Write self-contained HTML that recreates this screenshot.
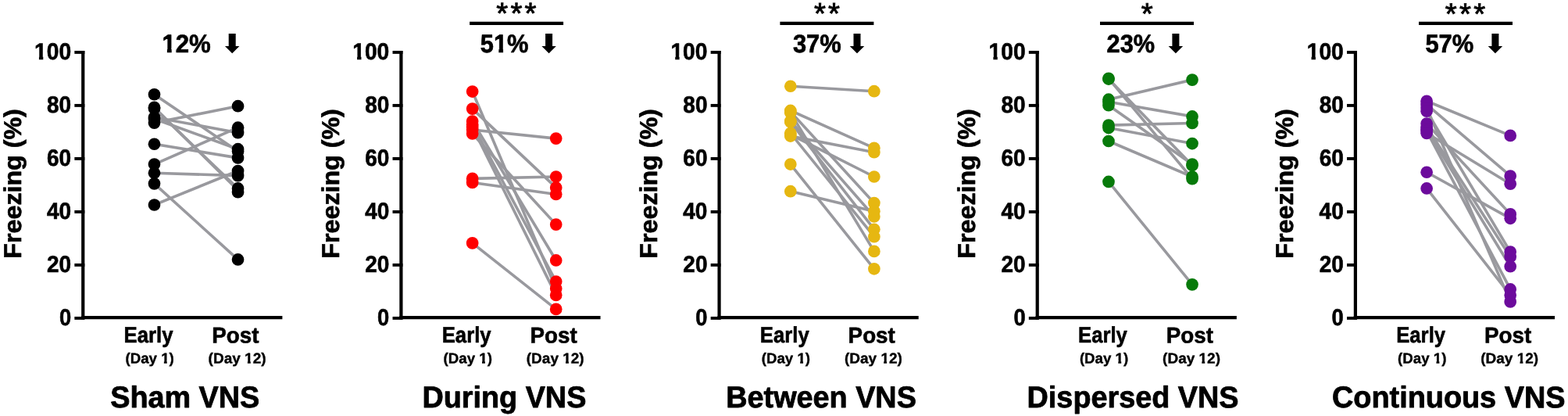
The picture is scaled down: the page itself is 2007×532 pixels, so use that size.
<!DOCTYPE html>
<html lang="en">
<head>
<meta charset="utf-8">
<title>Freezing across VNS groups</title>
<style>
html,body{margin:0;padding:0;background:#fff;}
body{width:2007px;height:532px;overflow:hidden;}
svg{display:block;}
text{font-family:"Liberation Sans",Arial,Helvetica,sans-serif;font-weight:bold;fill:#000;stroke:#000;stroke-linejoin:round;text-rendering:geometricPrecision;}
.ax{stroke:#000;stroke-width:4.2;fill:none;stroke-linecap:butt;stroke-linejoin:miter;}
.tk{stroke:#000;stroke-width:3.9;fill:none;}
.stars{font-weight:normal;stroke:#000;stroke-width:0.9px;stroke-linejoin:miter;}
.ln{stroke:#99999e;fill:none;}
</style>
</head>
<body>
<svg width="2007" height="532" viewBox="0 0 2007 532">
<rect x="0" y="0" width="2007" height="532" fill="#ffffff"/>
<defs>
<clipPath id="c1" clipPathUnits="userSpaceOnUse"><path clip-rule="evenodd" d="M-20 -38.87 H69.89 V17.94 H-20 Z M0.26 -4.87 H6.21 V1.63 H0.26 Z M11.85 -4.87 H16.73 V1.63 H11.85 Z"/></clipPath>
<clipPath id="c2" clipPathUnits="userSpaceOnUse"><path clip-rule="evenodd" d="M-20 -24.18 H82.02 V11.16 H-20 Z M45.26 -3.59 H49.18 V1.39 H45.26 Z M53.02 -3.59 H56.70 V1.39 H53.02 Z"/></clipPath>
<clipPath id="c3" clipPathUnits="userSpaceOnUse"><path clip-rule="evenodd" d="M-20 -24.18 H92.37 V11.16 H-20 Z M45.26 -3.59 H49.18 V1.39 H45.26 Z M53.02 -3.59 H55.89 V1.39 H53.02 Z"/></clipPath>
<clipPath id="c4" clipPathUnits="userSpaceOnUse"><path clip-rule="evenodd" d="M-20 -42.38 H85.25 V19.56 H-20 Z M0.37 -5.17 H6.82 V1.68 H0.37 Z M12.87 -5.17 H18.24 V1.68 H12.87 Z"/></clipPath>
<clipPath id="c5" clipPathUnits="userSpaceOnUse"><path clip-rule="evenodd" d="M-20 -42.38 H85.25 V19.56 H-20 Z M18.50 -5.17 H24.95 V1.68 H18.50 Z M31.00 -5.17 H37.04 V1.68 H31.00 Z"/></clipPath>
</defs>
<g id="panel1">
<path class="ax" d="M106.25 65.00 V408.20"/>
<path class="ax" d="M104.15 406.10 H361.40"/>
<path class="tk" d="M95.35 406.90 H108.35"/>
<text class="tick" font-size="29.90" stroke-width="0.63" transform="translate(75.93 415.95) rotate(0.03) scale(0.9126 1)">0</text>
<path class="tk" d="M95.35 338.90 H108.35"/>
<text class="tick" font-size="29.90" stroke-width="0.63" transform="translate(59.99 347.95) rotate(0.03) scale(0.9365 1)">20</text>
<path class="tk" d="M95.35 270.90 H108.35"/>
<text class="tick" font-size="29.90" stroke-width="0.63" transform="translate(59.98 279.95) rotate(0.03) scale(0.9368 1)">40</text>
<path class="tk" d="M95.35 202.90 H108.35"/>
<text class="tick" font-size="29.90" stroke-width="0.63" transform="translate(59.99 211.95) rotate(0.03) scale(0.9364 1)">60</text>
<path class="tk" d="M95.35 134.90 H108.35"/>
<text class="tick" font-size="29.90" stroke-width="0.63" transform="translate(59.99 143.95) rotate(0.03) scale(0.9365 1)">80</text>
<path class="tk" d="M95.35 66.90 H108.35"/>
<text class="tick" font-size="29.90" stroke-width="0.63" clip-path="url(#c1)" transform="translate(44.09 75.95) rotate(0.03) scale(0.9433 1)">100</text>
<text class="ylab" font-size="31.40" stroke-width="0.66" transform="translate(26.75 330.63) rotate(-90) scale(1.0259 1)">Freezing (%)</text>
<line class="ln" stroke-width="3.60" x1="197.50" y1="120.76" x2="304.55" y2="193.42"/>
<line class="ln" stroke-width="3.60" x1="197.50" y1="137.40" x2="304.55" y2="243.32"/>
<line class="ln" stroke-width="3.60" x1="197.50" y1="138.76" x2="304.55" y2="240.95"/>
<line class="ln" stroke-width="3.60" x1="197.50" y1="149.96" x2="304.55" y2="169.65"/>
<line class="ln" stroke-width="3.60" x1="197.50" y1="157.09" x2="304.55" y2="135.70"/>
<line class="ln" stroke-width="3.60" x1="197.50" y1="152.00" x2="304.55" y2="190.70"/>
<line class="ln" stroke-width="3.60" x1="197.50" y1="184.25" x2="304.55" y2="201.90"/>
<line class="ln" stroke-width="3.60" x1="197.50" y1="210.05" x2="304.55" y2="163.20"/>
<line class="ln" stroke-width="3.60" x1="197.50" y1="221.25" x2="304.55" y2="224.65"/>
<line class="ln" stroke-width="3.60" x1="197.50" y1="234.83" x2="304.55" y2="331.93"/>
<line class="ln" stroke-width="3.60" x1="197.50" y1="261.99" x2="304.55" y2="218.54"/>
<circle cx="197.50" cy="120.76" r="7.85" fill="#000000"/>
<circle cx="197.50" cy="137.40" r="7.85" fill="#000000"/>
<circle cx="197.50" cy="138.76" r="7.85" fill="#000000"/>
<circle cx="197.50" cy="149.96" r="7.85" fill="#000000"/>
<circle cx="197.50" cy="157.09" r="7.85" fill="#000000"/>
<circle cx="197.50" cy="152.00" r="7.85" fill="#000000"/>
<circle cx="197.50" cy="184.25" r="7.85" fill="#000000"/>
<circle cx="197.50" cy="210.05" r="7.85" fill="#000000"/>
<circle cx="197.50" cy="221.25" r="7.85" fill="#000000"/>
<circle cx="197.50" cy="234.83" r="7.85" fill="#000000"/>
<circle cx="197.50" cy="261.99" r="7.85" fill="#000000"/>
<circle cx="304.55" cy="193.42" r="7.85" fill="#000000"/>
<circle cx="304.55" cy="245.70" r="7.85" fill="#000000"/>
<circle cx="304.55" cy="240.95" r="7.85" fill="#000000"/>
<circle cx="304.55" cy="169.65" r="7.85" fill="#000000"/>
<circle cx="304.55" cy="135.70" r="7.85" fill="#000000"/>
<circle cx="304.55" cy="190.70" r="7.85" fill="#000000"/>
<circle cx="304.55" cy="201.90" r="7.85" fill="#000000"/>
<circle cx="304.55" cy="163.20" r="7.85" fill="#000000"/>
<circle cx="304.55" cy="224.65" r="7.85" fill="#000000"/>
<circle cx="304.55" cy="331.93" r="7.85" fill="#000000"/>
<circle cx="304.55" cy="218.54" r="7.85" fill="#000000"/>
<text class="xlab" font-size="28.50" stroke-width="0.60" transform="translate(158.53 438.40) rotate(0.03) scale(0.9023 1)">Early</text>
<text class="xsub" font-size="18.60" stroke-width="0.39" clip-path="url(#c2)" transform="translate(160.41 464.50) rotate(0.03) scale(1.0057 1)">(Day 1)</text>
<text class="xlab" font-size="28.50" stroke-width="0.60" transform="translate(271.29 438.40) rotate(0.03) scale(0.9747 1)">Post</text>
<text class="xsub" font-size="18.60" stroke-width="0.39" clip-path="url(#c3)" transform="translate(266.60 464.50) rotate(0.03) scale(1.0219 1)">(Day 12)</text>
<text class="title" font-size="38.60" stroke-width="0.81" transform="translate(141.22 521.00) rotate(0.03) scale(0.9793 1)">Sham VNS</text>
<text class="pct" font-size="32.60" stroke-width="0.68" clip-path="url(#c4)" transform="translate(207.38 67.00) rotate(0.03) scale(0.9548 1)">12%</text>
<path class="arrow" d="M292.70 43.0 h9 v15.9 h4.75 l-9.25 9.3 l-9.25 -9.3 h4.75 z" fill="#000"/>
</g>
<g id="panel2">
<path class="ax" d="M513.41 65.00 V408.20"/>
<path class="ax" d="M511.31 406.10 H768.56"/>
<path class="tk" d="M502.51 406.90 H515.51"/>
<text class="tick" font-size="29.90" stroke-width="0.63" transform="translate(483.09 415.95) rotate(0.03) scale(0.9126 1)">0</text>
<path class="tk" d="M502.51 338.90 H515.51"/>
<text class="tick" font-size="29.90" stroke-width="0.63" transform="translate(467.15 347.95) rotate(0.03) scale(0.9365 1)">20</text>
<path class="tk" d="M502.51 270.90 H515.51"/>
<text class="tick" font-size="29.90" stroke-width="0.63" transform="translate(467.14 279.95) rotate(0.03) scale(0.9368 1)">40</text>
<path class="tk" d="M502.51 202.90 H515.51"/>
<text class="tick" font-size="29.90" stroke-width="0.63" transform="translate(467.15 211.95) rotate(0.03) scale(0.9364 1)">60</text>
<path class="tk" d="M502.51 134.90 H515.51"/>
<text class="tick" font-size="29.90" stroke-width="0.63" transform="translate(467.15 143.95) rotate(0.03) scale(0.9365 1)">80</text>
<path class="tk" d="M502.51 66.90 H515.51"/>
<text class="tick" font-size="29.90" stroke-width="0.63" clip-path="url(#c1)" transform="translate(451.25 75.95) rotate(0.03) scale(0.9433 1)">100</text>
<text class="ylab" font-size="31.40" stroke-width="0.66" transform="translate(433.91 330.63) rotate(-90) scale(1.0259 1)">Freezing (%)</text>
<line class="ln" stroke-width="3.60" x1="604.66" y1="117.03" x2="711.71" y2="368.94"/>
<line class="ln" stroke-width="3.60" x1="604.66" y1="139.10" x2="711.71" y2="239.93"/>
<line class="ln" stroke-width="3.60" x1="604.66" y1="155.05" x2="711.71" y2="332.95"/>
<line class="ln" stroke-width="3.60" x1="604.66" y1="159.13" x2="711.71" y2="360.11"/>
<line class="ln" stroke-width="3.60" x1="604.66" y1="162.52" x2="711.71" y2="377.42"/>
<line class="ln" stroke-width="3.60" x1="604.66" y1="165.92" x2="711.71" y2="177.12"/>
<line class="ln" stroke-width="3.60" x1="604.66" y1="171.01" x2="711.71" y2="287.12"/>
<line class="ln" stroke-width="3.60" x1="604.66" y1="228.38" x2="711.71" y2="226.01"/>
<line class="ln" stroke-width="3.60" x1="604.66" y1="233.48" x2="711.71" y2="248.41"/>
<line class="ln" stroke-width="3.60" x1="604.66" y1="310.88" x2="711.71" y2="395.42"/>
<circle cx="604.66" cy="117.03" r="7.85" fill="#ff0000"/>
<circle cx="604.66" cy="139.10" r="7.85" fill="#ff0000"/>
<circle cx="604.66" cy="155.05" r="7.85" fill="#ff0000"/>
<circle cx="604.66" cy="159.13" r="7.85" fill="#ff0000"/>
<circle cx="604.66" cy="162.52" r="7.85" fill="#ff0000"/>
<circle cx="604.66" cy="165.92" r="7.85" fill="#ff0000"/>
<circle cx="604.66" cy="171.01" r="7.85" fill="#ff0000"/>
<circle cx="604.66" cy="228.38" r="7.85" fill="#ff0000"/>
<circle cx="604.66" cy="233.48" r="7.85" fill="#ff0000"/>
<circle cx="604.66" cy="310.88" r="7.85" fill="#ff0000"/>
<circle cx="711.71" cy="368.94" r="7.85" fill="#ff0000"/>
<circle cx="711.71" cy="239.93" r="7.85" fill="#ff0000"/>
<circle cx="711.71" cy="332.95" r="7.85" fill="#ff0000"/>
<circle cx="711.71" cy="360.11" r="7.85" fill="#ff0000"/>
<circle cx="711.71" cy="377.42" r="7.85" fill="#ff0000"/>
<circle cx="711.71" cy="177.12" r="7.85" fill="#ff0000"/>
<circle cx="711.71" cy="287.12" r="7.85" fill="#ff0000"/>
<circle cx="711.71" cy="226.01" r="7.85" fill="#ff0000"/>
<circle cx="711.71" cy="248.41" r="7.85" fill="#ff0000"/>
<circle cx="711.71" cy="395.42" r="7.85" fill="#ff0000"/>
<text class="xlab" font-size="28.50" stroke-width="0.60" transform="translate(565.69 438.40) rotate(0.03) scale(0.9023 1)">Early</text>
<text class="xsub" font-size="18.60" stroke-width="0.39" clip-path="url(#c2)" transform="translate(567.57 464.50) rotate(0.03) scale(1.0057 1)">(Day 1)</text>
<text class="xlab" font-size="28.50" stroke-width="0.60" transform="translate(678.45 438.40) rotate(0.03) scale(0.9747 1)">Post</text>
<text class="xsub" font-size="18.60" stroke-width="0.39" clip-path="url(#c3)" transform="translate(673.76 464.50) rotate(0.03) scale(1.0219 1)">(Day 12)</text>
<text class="title" font-size="38.60" stroke-width="0.81" transform="translate(540.38 521.00) rotate(0.03) scale(0.9797 1)">During VNS</text>
<text class="pct" font-size="32.60" stroke-width="0.68" clip-path="url(#c5)" transform="translate(614.79 67.00) rotate(0.03) scale(0.9453 1)">51%</text>
<path class="arrow" d="M698.10 43.0 h9 v15.9 h4.75 l-9.25 9.3 l-9.25 -9.3 h4.75 z" fill="#000"/>
<path class="ax" style="stroke-width:4.3" d="M601.10 29.85 H721.10"/>
<text class="stars" font-size="38.30" transform="rotate(0.03)" x="635.24 653.44 671.64" y="29.73">***</text>
</g>
<g id="panel3">
<path class="ax" d="M920.57 65.00 V408.20"/>
<path class="ax" d="M918.47 406.10 H1175.72"/>
<path class="tk" d="M909.67 406.90 H922.67"/>
<text class="tick" font-size="29.90" stroke-width="0.63" transform="translate(890.25 415.95) rotate(0.03) scale(0.9126 1)">0</text>
<path class="tk" d="M909.67 338.90 H922.67"/>
<text class="tick" font-size="29.90" stroke-width="0.63" transform="translate(874.31 347.95) rotate(0.03) scale(0.9365 1)">20</text>
<path class="tk" d="M909.67 270.90 H922.67"/>
<text class="tick" font-size="29.90" stroke-width="0.63" transform="translate(874.30 279.95) rotate(0.03) scale(0.9368 1)">40</text>
<path class="tk" d="M909.67 202.90 H922.67"/>
<text class="tick" font-size="29.90" stroke-width="0.63" transform="translate(874.31 211.95) rotate(0.03) scale(0.9364 1)">60</text>
<path class="tk" d="M909.67 134.90 H922.67"/>
<text class="tick" font-size="29.90" stroke-width="0.63" transform="translate(874.31 143.95) rotate(0.03) scale(0.9365 1)">80</text>
<path class="tk" d="M909.67 66.90 H922.67"/>
<text class="tick" font-size="29.90" stroke-width="0.63" clip-path="url(#c1)" transform="translate(858.41 75.95) rotate(0.03) scale(0.9433 1)">100</text>
<text class="ylab" font-size="31.40" stroke-width="0.66" transform="translate(841.07 330.63) rotate(-90) scale(1.0259 1)">Freezing (%)</text>
<line class="ln" stroke-width="3.60" x1="1011.82" y1="110.24" x2="1118.87" y2="116.69"/>
<line class="ln" stroke-width="3.60" x1="1011.82" y1="141.47" x2="1118.87" y2="189.34"/>
<line class="ln" stroke-width="3.60" x1="1011.82" y1="142.83" x2="1118.87" y2="259.62"/>
<line class="ln" stroke-width="3.60" x1="1011.82" y1="144.19" x2="1118.87" y2="321.41"/>
<line class="ln" stroke-width="3.60" x1="1011.82" y1="154.71" x2="1118.87" y2="276.93"/>
<line class="ln" stroke-width="3.60" x1="1011.82" y1="156.07" x2="1118.87" y2="293.23"/>
<line class="ln" stroke-width="3.60" x1="1011.82" y1="170.33" x2="1118.87" y2="302.73"/>
<line class="ln" stroke-width="3.60" x1="1011.82" y1="172.03" x2="1118.87" y2="226.01"/>
<line class="ln" stroke-width="3.60" x1="1011.82" y1="174.06" x2="1118.87" y2="194.77"/>
<line class="ln" stroke-width="3.60" x1="1011.82" y1="210.05" x2="1118.87" y2="343.81"/>
<line class="ln" stroke-width="3.60" x1="1011.82" y1="244.68" x2="1118.87" y2="270.14"/>
<circle cx="1011.82" cy="110.24" r="7.85" fill="#e6b711"/>
<circle cx="1011.82" cy="141.47" r="7.85" fill="#e6b711"/>
<circle cx="1011.82" cy="142.83" r="7.85" fill="#e6b711"/>
<circle cx="1011.82" cy="144.19" r="7.85" fill="#e6b711"/>
<circle cx="1011.82" cy="154.71" r="7.85" fill="#e6b711"/>
<circle cx="1011.82" cy="156.07" r="7.85" fill="#e6b711"/>
<circle cx="1011.82" cy="170.33" r="7.85" fill="#e6b711"/>
<circle cx="1011.82" cy="172.03" r="7.85" fill="#e6b711"/>
<circle cx="1011.82" cy="174.06" r="7.85" fill="#e6b711"/>
<circle cx="1011.82" cy="210.05" r="7.85" fill="#e6b711"/>
<circle cx="1011.82" cy="244.68" r="7.85" fill="#e6b711"/>
<circle cx="1118.87" cy="116.69" r="7.85" fill="#e6b711"/>
<circle cx="1118.87" cy="189.34" r="7.85" fill="#e6b711"/>
<circle cx="1118.87" cy="259.62" r="7.85" fill="#e6b711"/>
<circle cx="1118.87" cy="321.41" r="7.85" fill="#e6b711"/>
<circle cx="1118.87" cy="276.93" r="7.85" fill="#e6b711"/>
<circle cx="1118.87" cy="293.23" r="7.85" fill="#e6b711"/>
<circle cx="1118.87" cy="302.73" r="7.85" fill="#e6b711"/>
<circle cx="1118.87" cy="226.01" r="7.85" fill="#e6b711"/>
<circle cx="1118.87" cy="194.77" r="7.85" fill="#e6b711"/>
<circle cx="1118.87" cy="343.81" r="7.85" fill="#e6b711"/>
<circle cx="1118.87" cy="270.14" r="7.85" fill="#e6b711"/>
<text class="xlab" font-size="28.50" stroke-width="0.60" transform="translate(972.85 438.40) rotate(0.03) scale(0.9023 1)">Early</text>
<text class="xsub" font-size="18.60" stroke-width="0.39" clip-path="url(#c2)" transform="translate(974.73 464.50) rotate(0.03) scale(1.0057 1)">(Day 1)</text>
<text class="xlab" font-size="28.50" stroke-width="0.60" transform="translate(1085.61 438.40) rotate(0.03) scale(0.9747 1)">Post</text>
<text class="xsub" font-size="18.60" stroke-width="0.39" clip-path="url(#c3)" transform="translate(1080.92 464.50) rotate(0.03) scale(1.0219 1)">(Day 12)</text>
<text class="title" font-size="38.60" stroke-width="0.81" transform="translate(929.28 521.00) rotate(0.03) scale(0.9794 1)">Between VNS</text>
<text class="pct" font-size="32.60" stroke-width="0.68" transform="translate(1014.93 67.00) rotate(0.03) scale(0.9478 1)">37%</text>
<path class="arrow" d="M1092.50 43.0 h9 v15.9 h4.75 l-9.25 9.3 l-9.25 -9.3 h4.75 z" fill="#000"/>
<path class="ax" style="stroke-width:4.3" d="M998.40 29.85 H1118.40"/>
<text class="stars" font-size="38.30" transform="rotate(0.03)" x="1041.94 1060.14" y="29.73">**</text>
</g>
<g id="panel4">
<path class="ax" d="M1327.73 65.00 V408.20"/>
<path class="ax" d="M1325.63 406.10 H1582.88"/>
<path class="tk" d="M1316.83 406.90 H1329.83"/>
<text class="tick" font-size="29.90" stroke-width="0.63" transform="translate(1297.41 415.95) rotate(0.03) scale(0.9126 1)">0</text>
<path class="tk" d="M1316.83 338.90 H1329.83"/>
<text class="tick" font-size="29.90" stroke-width="0.63" transform="translate(1281.47 347.95) rotate(0.03) scale(0.9365 1)">20</text>
<path class="tk" d="M1316.83 270.90 H1329.83"/>
<text class="tick" font-size="29.90" stroke-width="0.63" transform="translate(1281.46 279.95) rotate(0.03) scale(0.9368 1)">40</text>
<path class="tk" d="M1316.83 202.90 H1329.83"/>
<text class="tick" font-size="29.90" stroke-width="0.63" transform="translate(1281.47 211.95) rotate(0.03) scale(0.9364 1)">60</text>
<path class="tk" d="M1316.83 134.90 H1329.83"/>
<text class="tick" font-size="29.90" stroke-width="0.63" transform="translate(1281.47 143.95) rotate(0.03) scale(0.9365 1)">80</text>
<path class="tk" d="M1316.83 66.90 H1329.83"/>
<text class="tick" font-size="29.90" stroke-width="0.63" clip-path="url(#c1)" transform="translate(1265.57 75.95) rotate(0.03) scale(0.9433 1)">100</text>
<text class="ylab" font-size="31.40" stroke-width="0.66" transform="translate(1248.23 330.63) rotate(-90) scale(1.0259 1)">Freezing (%)</text>
<line class="ln" stroke-width="3.60" x1="1418.98" y1="100.39" x2="1526.03" y2="228.72"/>
<line class="ln" stroke-width="3.60" x1="1418.98" y1="101.07" x2="1526.03" y2="211.41"/>
<line class="ln" stroke-width="3.60" x1="1418.98" y1="127.21" x2="1526.03" y2="102.09"/>
<line class="ln" stroke-width="3.60" x1="1418.98" y1="130.27" x2="1526.03" y2="148.94"/>
<line class="ln" stroke-width="3.60" x1="1418.98" y1="134.68" x2="1526.03" y2="210.05"/>
<line class="ln" stroke-width="3.60" x1="1418.98" y1="160.14" x2="1526.03" y2="157.43"/>
<line class="ln" stroke-width="3.60" x1="1418.98" y1="163.54" x2="1526.03" y2="183.57"/>
<line class="ln" stroke-width="3.60" x1="1418.98" y1="180.51" x2="1526.03" y2="226.01"/>
<line class="ln" stroke-width="3.60" x1="1418.98" y1="232.46" x2="1526.03" y2="363.84"/>
<circle cx="1418.98" cy="100.39" r="7.85" fill="#077a0a"/>
<circle cx="1418.98" cy="101.07" r="7.85" fill="#077a0a"/>
<circle cx="1418.98" cy="127.21" r="7.85" fill="#077a0a"/>
<circle cx="1418.98" cy="130.27" r="7.85" fill="#077a0a"/>
<circle cx="1418.98" cy="134.68" r="7.85" fill="#077a0a"/>
<circle cx="1418.98" cy="160.14" r="7.85" fill="#077a0a"/>
<circle cx="1418.98" cy="163.54" r="7.85" fill="#077a0a"/>
<circle cx="1418.98" cy="180.51" r="7.85" fill="#077a0a"/>
<circle cx="1418.98" cy="232.46" r="7.85" fill="#077a0a"/>
<circle cx="1526.03" cy="228.72" r="7.85" fill="#077a0a"/>
<circle cx="1526.03" cy="211.41" r="7.85" fill="#077a0a"/>
<circle cx="1526.03" cy="102.09" r="7.85" fill="#077a0a"/>
<circle cx="1526.03" cy="148.94" r="7.85" fill="#077a0a"/>
<circle cx="1526.03" cy="210.05" r="7.85" fill="#077a0a"/>
<circle cx="1526.03" cy="157.43" r="7.85" fill="#077a0a"/>
<circle cx="1526.03" cy="183.57" r="7.85" fill="#077a0a"/>
<circle cx="1526.03" cy="226.01" r="7.85" fill="#077a0a"/>
<circle cx="1526.03" cy="363.84" r="7.85" fill="#077a0a"/>
<text class="xlab" font-size="28.50" stroke-width="0.60" transform="translate(1380.01 438.40) rotate(0.03) scale(0.9023 1)">Early</text>
<text class="xsub" font-size="18.60" stroke-width="0.39" clip-path="url(#c2)" transform="translate(1381.89 464.50) rotate(0.03) scale(1.0057 1)">(Day 1)</text>
<text class="xlab" font-size="28.50" stroke-width="0.60" transform="translate(1492.77 438.40) rotate(0.03) scale(0.9747 1)">Post</text>
<text class="xsub" font-size="18.60" stroke-width="0.39" clip-path="url(#c3)" transform="translate(1488.08 464.50) rotate(0.03) scale(1.0219 1)">(Day 12)</text>
<text class="title" font-size="38.60" stroke-width="0.81" transform="translate(1314.58 521.00) rotate(0.03) scale(0.9796 1)">Dispersed VNS</text>
<text class="pct" font-size="32.60" stroke-width="0.68" transform="translate(1416.58 67.00) rotate(0.03) scale(0.9424 1)">23%</text>
<path class="arrow" d="M1500.40 43.0 h9 v15.9 h4.75 l-9.25 9.3 l-9.25 -9.3 h4.75 z" fill="#000"/>
<path class="ax" style="stroke-width:4.3" d="M1408.00 29.85 H1528.00"/>
<text class="stars" font-size="38.30" transform="rotate(0.03)" x="1460.74" y="29.73">*</text>
</g>
<g id="panel5">
<path class="ax" d="M1734.89 65.00 V408.20"/>
<path class="ax" d="M1732.79 406.10 H1990.04"/>
<path class="tk" d="M1723.99 406.90 H1736.99"/>
<text class="tick" font-size="29.90" stroke-width="0.63" transform="translate(1704.57 415.95) rotate(0.03) scale(0.9126 1)">0</text>
<path class="tk" d="M1723.99 338.90 H1736.99"/>
<text class="tick" font-size="29.90" stroke-width="0.63" transform="translate(1688.63 347.95) rotate(0.03) scale(0.9365 1)">20</text>
<path class="tk" d="M1723.99 270.90 H1736.99"/>
<text class="tick" font-size="29.90" stroke-width="0.63" transform="translate(1688.62 279.95) rotate(0.03) scale(0.9368 1)">40</text>
<path class="tk" d="M1723.99 202.90 H1736.99"/>
<text class="tick" font-size="29.90" stroke-width="0.63" transform="translate(1688.63 211.95) rotate(0.03) scale(0.9364 1)">60</text>
<path class="tk" d="M1723.99 134.90 H1736.99"/>
<text class="tick" font-size="29.90" stroke-width="0.63" transform="translate(1688.63 143.95) rotate(0.03) scale(0.9365 1)">80</text>
<path class="tk" d="M1723.99 66.90 H1736.99"/>
<text class="tick" font-size="29.90" stroke-width="0.63" clip-path="url(#c1)" transform="translate(1672.73 75.95) rotate(0.03) scale(0.9433 1)">100</text>
<text class="ylab" font-size="31.40" stroke-width="0.66" transform="translate(1655.39 330.63) rotate(-90) scale(1.0259 1)">Freezing (%)</text>
<line class="ln" stroke-width="3.60" x1="1826.14" y1="129.25" x2="1933.19" y2="173.38"/>
<line class="ln" stroke-width="3.60" x1="1826.14" y1="133.66" x2="1933.19" y2="224.99"/>
<line class="ln" stroke-width="3.60" x1="1826.14" y1="138.08" x2="1933.19" y2="385.91"/>
<line class="ln" stroke-width="3.60" x1="1826.14" y1="142.15" x2="1933.19" y2="322.09"/>
<line class="ln" stroke-width="3.60" x1="1826.14" y1="158.11" x2="1933.19" y2="273.88"/>
<line class="ln" stroke-width="3.60" x1="1826.14" y1="162.18" x2="1933.19" y2="328.54"/>
<line class="ln" stroke-width="3.60" x1="1826.14" y1="165.58" x2="1933.19" y2="340.76"/>
<line class="ln" stroke-width="3.60" x1="1826.14" y1="167.61" x2="1933.19" y2="369.96"/>
<line class="ln" stroke-width="3.60" x1="1826.14" y1="170.33" x2="1933.19" y2="235.17"/>
<line class="ln" stroke-width="3.60" x1="1826.14" y1="220.24" x2="1933.19" y2="279.31"/>
<line class="ln" stroke-width="3.60" x1="1826.14" y1="240.95" x2="1933.19" y2="377.42"/>
<circle cx="1826.14" cy="129.25" r="7.85" fill="#6c0b9c"/>
<circle cx="1826.14" cy="133.66" r="7.85" fill="#6c0b9c"/>
<circle cx="1826.14" cy="138.08" r="7.85" fill="#6c0b9c"/>
<circle cx="1826.14" cy="142.15" r="7.85" fill="#6c0b9c"/>
<circle cx="1826.14" cy="158.11" r="7.85" fill="#6c0b9c"/>
<circle cx="1826.14" cy="162.18" r="7.85" fill="#6c0b9c"/>
<circle cx="1826.14" cy="165.58" r="7.85" fill="#6c0b9c"/>
<circle cx="1826.14" cy="167.61" r="7.85" fill="#6c0b9c"/>
<circle cx="1826.14" cy="170.33" r="7.85" fill="#6c0b9c"/>
<circle cx="1826.14" cy="220.24" r="7.85" fill="#6c0b9c"/>
<circle cx="1826.14" cy="240.95" r="7.85" fill="#6c0b9c"/>
<circle cx="1933.19" cy="173.38" r="7.85" fill="#6c0b9c"/>
<circle cx="1933.19" cy="224.99" r="7.85" fill="#6c0b9c"/>
<circle cx="1933.19" cy="385.91" r="7.85" fill="#6c0b9c"/>
<circle cx="1933.19" cy="322.09" r="7.85" fill="#6c0b9c"/>
<circle cx="1933.19" cy="273.88" r="7.85" fill="#6c0b9c"/>
<circle cx="1933.19" cy="328.54" r="7.85" fill="#6c0b9c"/>
<circle cx="1933.19" cy="340.76" r="7.85" fill="#6c0b9c"/>
<circle cx="1933.19" cy="369.96" r="7.85" fill="#6c0b9c"/>
<circle cx="1933.19" cy="235.17" r="7.85" fill="#6c0b9c"/>
<circle cx="1933.19" cy="279.31" r="7.85" fill="#6c0b9c"/>
<circle cx="1933.19" cy="377.42" r="7.85" fill="#6c0b9c"/>
<text class="xlab" font-size="28.50" stroke-width="0.60" transform="translate(1787.17 438.40) rotate(0.03) scale(0.9023 1)">Early</text>
<text class="xsub" font-size="18.60" stroke-width="0.39" clip-path="url(#c2)" transform="translate(1789.05 464.50) rotate(0.03) scale(1.0057 1)">(Day 1)</text>
<text class="xlab" font-size="28.50" stroke-width="0.60" transform="translate(1899.93 438.40) rotate(0.03) scale(0.9747 1)">Post</text>
<text class="xsub" font-size="18.60" stroke-width="0.39" clip-path="url(#c3)" transform="translate(1895.24 464.50) rotate(0.03) scale(1.0219 1)">(Day 12)</text>
<text class="title" font-size="38.60" stroke-width="0.81" transform="translate(1704.95 521.00) rotate(0.03) scale(0.9811 1)">Continuous VNS</text>
<text class="pct" font-size="32.60" stroke-width="0.68" transform="translate(1824.39 67.00) rotate(0.03) scale(0.9468 1)">57%</text>
<path class="arrow" d="M1909.40 43.0 h9 v15.9 h4.75 l-9.25 9.3 l-9.25 -9.3 h4.75 z" fill="#000"/>
<path class="ax" style="stroke-width:4.3" d="M1816.00 29.85 H1936.00"/>
<text class="stars" font-size="38.30" transform="rotate(0.03)" x="1849.84 1868.04 1886.24" y="29.73">***</text>
</g>
</svg>
</body>
</html>
